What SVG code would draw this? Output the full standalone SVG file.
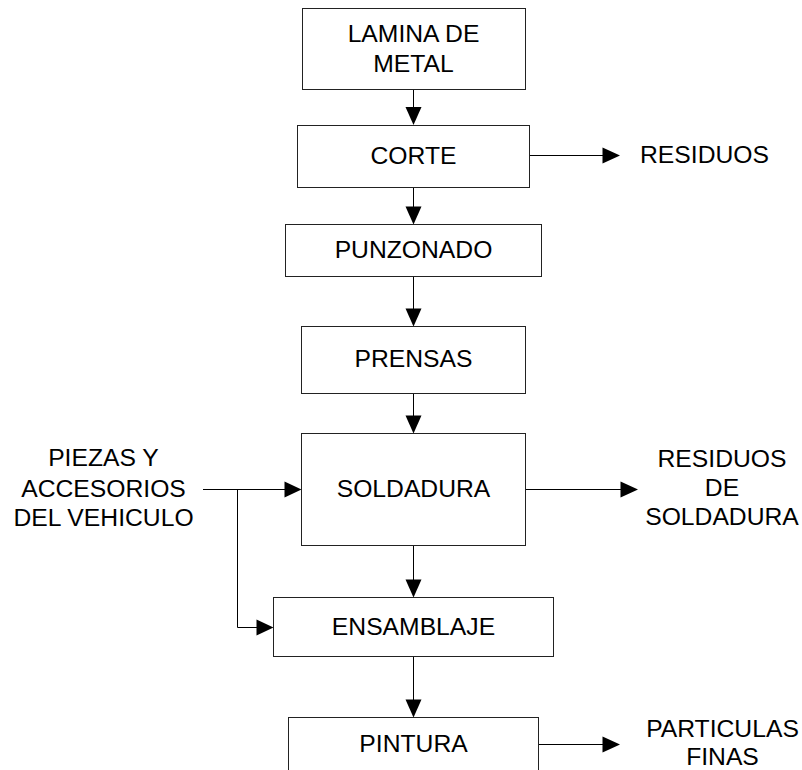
<svg xmlns="http://www.w3.org/2000/svg" width="802" height="770" viewBox="0 0 802 770">
<style>
.box{fill:#fff;stroke:#222;stroke-width:1}
.t{font-family:"Liberation Sans",Arial,sans-serif;font-size:24.7px;fill:#000;text-anchor:middle}
.ln{stroke:#000;stroke-width:1;fill:none}
.ah{fill:#000;stroke:none}
</style>
<rect width="802" height="770" fill="#fff"/>
<g id="connectors">
<path class="ln" d="M413.5 89.5V108"/><polygon class="ah" points="405.5,107 421.5,107 413.5,125"/>
<path class="ln" d="M413.5 187.5V207"/><polygon class="ah" points="405.5,206.5 421.5,206.5 413.5,224.5"/>
<path class="ln" d="M413.5 276.5V309"/><polygon class="ah" points="405.5,308.5 421.5,308.5 413.5,326.5"/>
<path class="ln" d="M413.5 393.5V416"/><polygon class="ah" points="405.5,415.5 421.5,415.5 413.5,433.5"/>
<path class="ln" d="M413.5 545.5V580"/><polygon class="ah" points="405.5,579.5 421.5,579.5 413.5,597.5"/>
<path class="ln" d="M413.5 656.5V700"/><polygon class="ah" points="405.5,699.5 421.5,699.5 413.5,717.5"/>
<path class="ln" d="M529.5 155.5H603"/><polygon class="ah" points="602.5,147.5 602.5,163.5 620,155.5"/>
<path class="ln" d="M525.5 489.5H621"/><polygon class="ah" points="620.5,481.5 620.5,497.5 638,489.5"/>
<path class="ln" d="M538.5 744.5H603"/><polygon class="ah" points="602.5,736.5 602.5,752.5 620,744.5"/>
<path class="ln" d="M203 489.5H285"/><polygon class="ah" points="284.5,481.5 284.5,497.5 301.5,489.5"/>
<path class="ln" d="M237.5 489.5V627.5H257"/><polygon class="ah" points="256.5,619.5 256.5,635.5 273.5,627.5"/>
</g>
<g id="lamina"><rect class="box" x="302.5" y="8.5" width="223" height="81"/><text class="t" x="413.5" y="41.7">LAMINA DE</text><text class="t" x="413.5" y="71.7">METAL</text></g>
<g id="corte"><rect class="box" x="297.5" y="125.5" width="232" height="62"/><text class="t" x="413.5" y="164">CORTE</text></g>
<g id="punzonado"><rect class="box" x="285.5" y="224.5" width="256" height="52"/><text class="t" x="413.5" y="258.3">PUNZONADO</text></g>
<g id="prensas"><rect class="box" x="301.5" y="326.5" width="224" height="67"/><text class="t" x="413.5" y="367.3">PRENSAS</text></g>
<g id="soldadura"><rect class="box" x="301.5" y="433.5" width="224" height="112"/><text class="t" x="413.5" y="496.7">SOLDADURA</text></g>
<g id="ensamblaje"><rect class="box" x="273.5" y="597.5" width="280" height="59"/><text class="t" x="413.5" y="635">ENSAMBLAJE</text></g>
<g id="pintura"><rect class="box" x="288.5" y="717.5" width="250" height="80"/><text class="t" x="413.5" y="751.7">PINTURA</text></g>
<g id="residuos"><text class="t" x="704.5" y="163.3">RESIDUOS</text></g>
<g id="residuos-soldadura"><text class="t" x="722" y="466.7">RESIDUOS</text><text class="t" x="722" y="495.7">DE</text><text class="t" x="722" y="525">SOLDADURA</text></g>
<g id="piezas"><text class="t" x="103.5" y="466">PIEZAS Y</text><text class="t" x="103.5" y="496.5">ACCESORIOS</text><text class="t" x="103.5" y="526">DEL VEHICULO</text></g>
<g id="particulas"><text class="t" x="722.5" y="737.3">PARTICULAS</text><text class="t" x="722.5" y="765">FINAS</text></g>
</svg>
